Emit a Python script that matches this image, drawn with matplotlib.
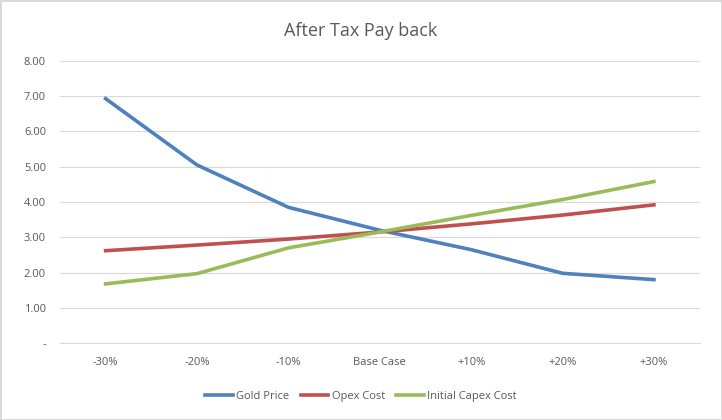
import matplotlib.pyplot as plt

categories = ['-30%', '-20%', '-10%', 'Base Case', '+10%', '+20%', '+30%']
gold_price = [6.93, 5.05, 3.85, 3.20, 2.65, 1.98, 1.80]
opex_cost = [2.62, 2.78, 2.95, 3.15, 3.38, 3.63, 3.92]
capex_cost = [1.68, 1.97, 2.70, 3.15, 3.62, 4.07, 4.58]
y_ticks = [0, 1, 2, 3, 4, 5, 6, 7, 8]
y_labels = ['-'] + [f'{v:.2f}' for v in y_ticks[1:]]

plt.rcParams['font.family'] = ['Open Sans', 'DejaVu Sans']

fig = plt.figure(figsize=(7.22, 4.2), dpi=100)
fig.patch.set_edgecolor('#d9d9d9')
fig.patch.set_linewidth(1)
ax = fig.add_axes([0.083, 0.183, 0.886, 0.672])

x = range(len(categories))
ax.plot(x, gold_price, color='#4F81BD', lw=2.6, label='Gold Price')
ax.plot(x, opex_cost, color='#C0504D', lw=2.6, label='Opex Cost')
ax.plot(x, capex_cost, color='#9BBB59', lw=2.6, label='Initial Capex Cost')

ax.set_xlim(-0.5, len(categories) - 0.5)
ax.set_ylim(0, 8)
ax.set_yticks(y_ticks)
ax.set_yticklabels(y_labels)
ax.set_xticks(list(x))
ax.set_xticklabels(categories)
ax.tick_params(length=0, labelsize=8, colors='#595959', pad=10)
ax.grid(axis='y', color='#d9d9d9', lw=0.8)
ax.set_axisbelow(True)
for side in ['top', 'right', 'left']:
    ax.spines[side].set_visible(False)
ax.spines['bottom'].set_color('#d9d9d9')

fig.text(0.5, 0.925, 'After Tax Pay back', ha='center', va='center',
         fontsize=13, color='#595959')
fig.legend(loc='lower center', bbox_to_anchor=(0.5, 0.02), ncol=3,
           frameon=False, fontsize=8, labelcolor='#595959',
           handlelength=2.5, columnspacing=1.0, handletextpad=0.3)

fig.savefig('out.png', dpi=100)
